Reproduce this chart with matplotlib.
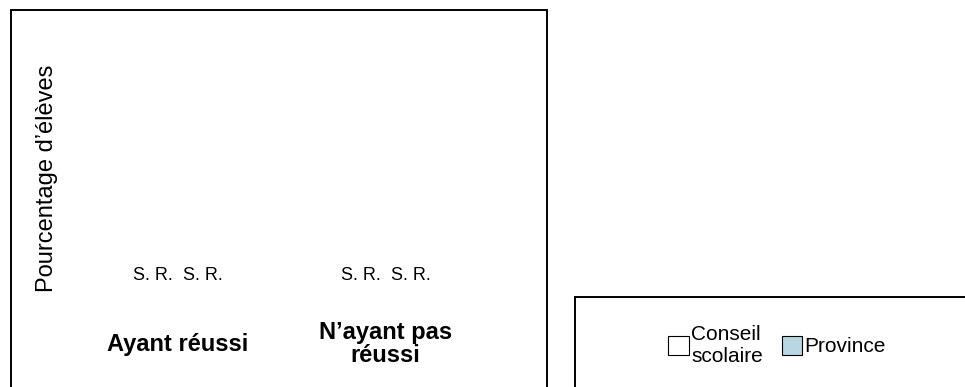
import matplotlib

matplotlib.use("Agg")
import matplotlib.pyplot as plt
from matplotlib.patches import Patch, Rectangle

plt.rcParams["font.family"] = ["Liberation Sans", "DejaVu Sans"]

CATEGORIES = ["Ayant réussi", "N’ayant pas\nréussi"]
SERIES = ["Conseil\nscolaire", "Province"]
# no results reported (S. R. = sans résultat) for either series
CONSEIL_VALUES = [None, None]
PROVINCE_VALUES = [None, None]
MISSING_LABEL = "S. R."
Y_LABEL = "Pourcentage d’élèves"

COLORS = ["white", "#b8d7e2"]
FIG_W, FIG_H = 965, 387


def px_x(x):
    return x / FIG_W


def px_y(y):
    return 1 - y / FIG_H


def main() -> None:
    fig = plt.figure(figsize=(FIG_W / 100, FIG_H / 100), dpi=100)

    # chart frame and legend frame, both cut by the image bottom edge
    fig.patches.append(Rectangle((px_x(11), px_y(420)), px_x(536), (420 - 10) / FIG_H,
                                 transform=fig.transFigure, fill=False,
                                 edgecolor="black", linewidth=1.4))
    fig.patches.append(Rectangle((px_x(575), px_y(420)), px_x(460), (420 - 297) / FIG_H,
                                 transform=fig.transFigure, fill=False,
                                 edgecolor="black", linewidth=1.4))

    ax = fig.add_axes([px_x(11), px_y(290), px_x(536), (290 - 10) / FIG_H])
    ax.set_xlim(-0.80, 1.776)
    ax.set_ylim(0, 100)

    width = 0.24
    positions = list(range(len(CATEGORIES)))
    for i, values in enumerate([CONSEIL_VALUES, PROVINCE_VALUES]):
        offset = (i - 0.5) * width
        heights = [0 if v is None else v for v in values]
        bars = ax.bar([p + offset for p in positions], heights, width,
                      color=COLORS[i], edgecolor="black", linewidth=0.8)
        for bar, v in zip(bars, values):
            if v is None:
                bar.set_linewidth(0)
            text = MISSING_LABEL if v is None else f"{v:.0f}"
            ax.annotate(text, (bar.get_x() + bar.get_width() / 2, bar.get_height()),
                        xytext=(0, 4), textcoords="offset points",
                        ha="center", va="bottom", fontsize=13)

    ax.set_xticks(positions)
    ax.set_xticklabels(CATEGORIES, fontsize=17, fontweight="bold", va="center",
                       linespacing=1.0)
    ax.tick_params(axis="x", length=0, pad=39)
    ax.set_yticks([])
    for spine in ax.spines.values():
        spine.set_visible(False)

    ax.set_ylabel(Y_LABEL, fontsize=17, va="center")
    ax.yaxis.set_label_coords((47 - 11) / 536, 1 - (178 - 10) / 280)

    handles = [Patch(facecolor=c, edgecolor="black", linewidth=0.8) for c in COLORS]
    fig.legend(handles=handles, labels=SERIES, loc="center",
               bbox_to_anchor=(px_x(777), px_y(345)), ncol=2, frameon=False,
               fontsize=15, handlelength=1.0, handleheight=1.0, handletextpad=0.1,
               columnspacing=0.9, labelspacing=0.2)

    fig.savefig("out.png", dpi=100)


if __name__ == "__main__":
    main()
